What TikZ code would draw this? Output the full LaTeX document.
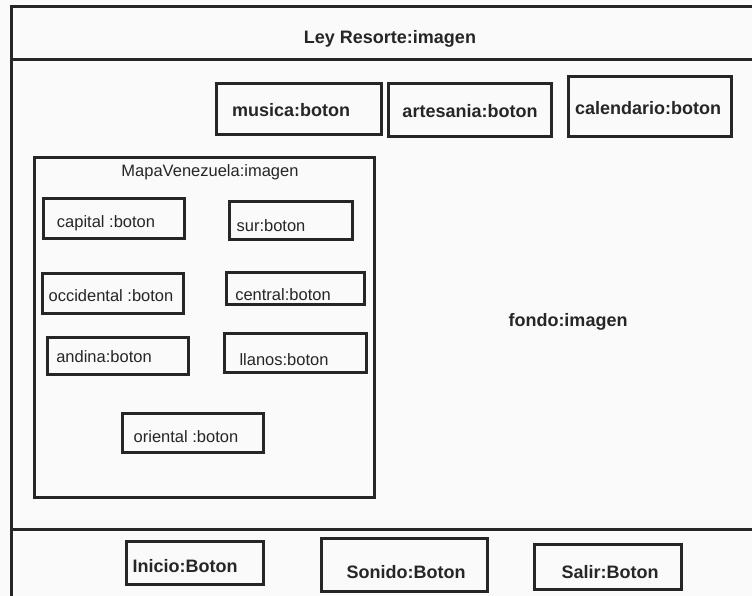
\documentclass[tikz,border=0pt]{standalone}
\usepackage{fontspec}
\setmainfont{Liberation Sans}
\definecolor{ink}{HTML}{262626}
\definecolor{paper}{HTML}{FAFAFA}
\begin{document}
\begin{tikzpicture}[x=1pt,y=-1pt,
  frame/.style={draw=ink, line width=3pt},
  btn/.style={draw=ink, line width=3pt, inner sep=0pt, rectangle},
  boldlbl/.style={font=\fontsize{18}{20}\selectfont\bfseries, text=ink, inner sep=0pt},
  thinlbl/.style={font=\fontsize{16.5}{18}\selectfont, text=ink, inner sep=0pt}]
% page area
\fill[paper] (0,0) rectangle (752,596);
\useasboundingbox (0,0) rectangle (752,596);
\clip (0,0) rectangle (752,596);
% a box given by its corners: name, x1, y1, x2, y2
\newcommand{\uibox}[5]{\node[btn, minimum width={#4-#2}, minimum height={#5-#3}] (#1) at ({(#2+#4)/2},{(#3+#5)/2}) {};}

% screen frame: header, body and footer bands
\coordinate (frameTL) at (11,7);
\coordinate (frameBL) at (11,600);
\coordinate (frameTR) at (760,7);
\coordinate (headL) at (11,60);
\coordinate (headR) at (760,60);
\coordinate (footL) at (11,529);
\coordinate (footR) at (760,529);
\draw[frame] (frameBL) -- (frameTL) -- (frameTR);
\draw[frame] (headL) -- (headR);
\draw[frame] (footL) -- (footR);
\node[boldlbl] (ley) at (390,39) {Ley Resorte:imagen};
\node[boldlbl] (fondo) at (568,322) {fondo:imagen};

% top buttons
\uibox{musica}{216}{84}{381}{135}
\uibox{artesania}{388}{84}{551}{137}
\uibox{calendario}{568}{77}{731}{137}
\node[boldlbl] (musicaT) at (291,110) {musica:boton};
\node[boldlbl] (artesaniaT) at (470,111) {artesania:boton};
\node[boldlbl] (calendarioT) at (648,108) {calendario:boton};

% map panel with region buttons
\uibox{mapa}{34}{158}{374}{497}
\node[thinlbl] (mapaT) at (210,172) {MapaVenezuela:imagen};
\uibox{capital}{43}{199}{184}{238}
\uibox{sur}{229}{202}{352}{239}
\uibox{occidental}{42}{273}{183}{313}
\uibox{central}{226}{272}{364}{304}
\uibox{andina}{47}{337}{188}{374}
\uibox{llanos}{224}{333}{366}{372}
\uibox{oriental}{122}{413}{263}{452}
\node[thinlbl] (capitalT) at (106,223) {capital :boton};
\node[thinlbl] (surT) at (271,226) {sur:boton};
\node[thinlbl] (occidentalT) at (111,296) {occidental :boton};
\node[thinlbl] (centralT) at (283,295) {central:boton};
\node[thinlbl] (andinaT) at (104,357) {andina:boton};
\node[thinlbl] (llanosT) at (284,360) {llanos:boton};
\node[thinlbl] (orientalT) at (186,437) {oriental :boton};

% footer buttons
\uibox{inicio}{126}{541}{263}{584}
\uibox{sonido}{321}{538}{487}{591}
\uibox{salir}{534}{544}{681}{589}
\node[boldlbl] (inicioT) at (185,566) {Inicio:Boton};
\node[boldlbl] (sonidoT) at (406,572) {Sonido:Boton};
\node[boldlbl] (salirT) at (610,572) {Salir:Boton};
\end{tikzpicture}
\end{document}
